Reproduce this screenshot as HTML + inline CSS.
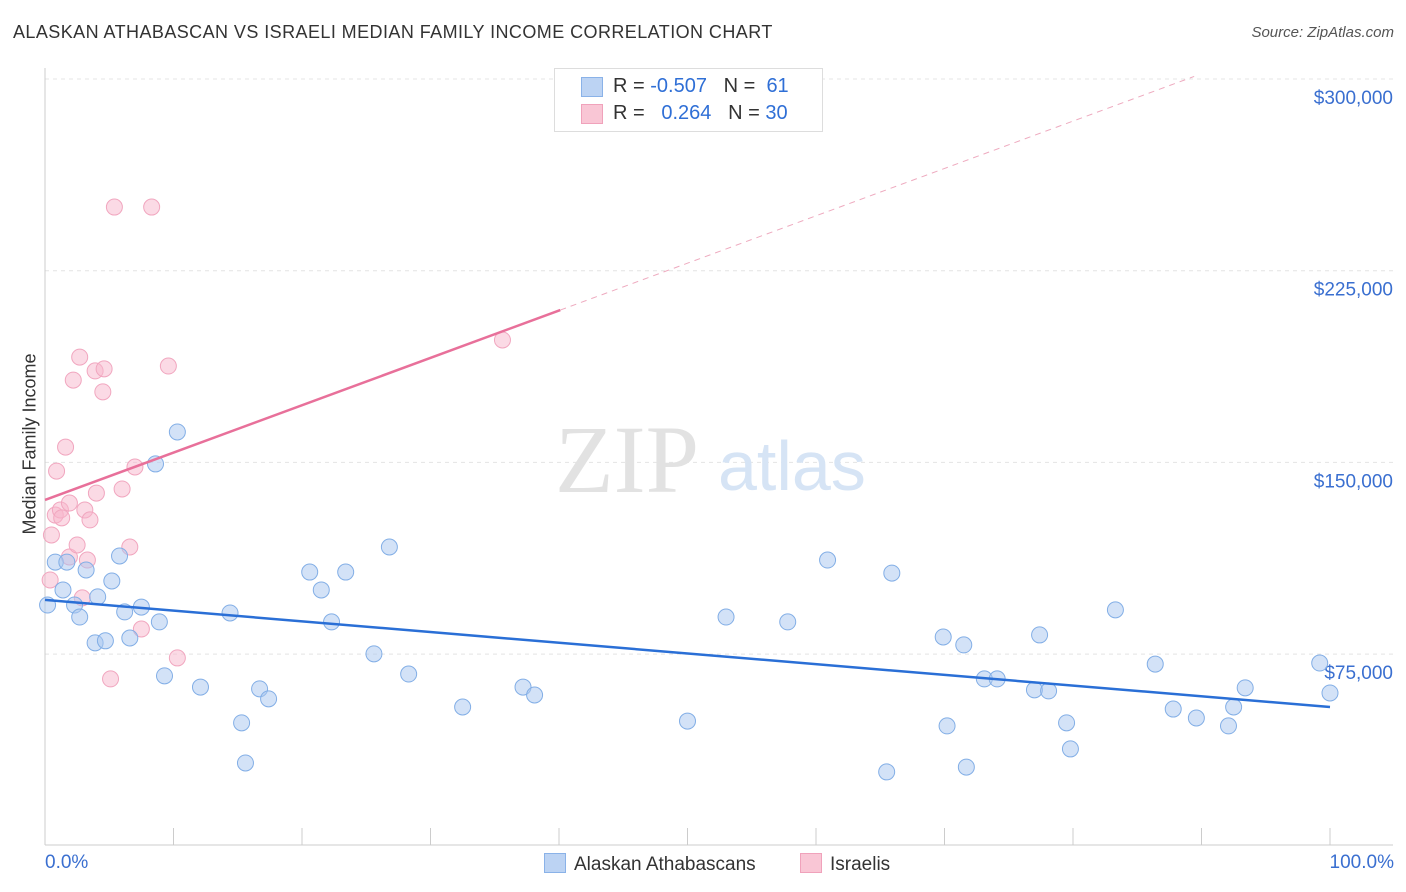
<!DOCTYPE html>
<html><head><meta charset="utf-8"><style>
body{margin:0;background:#fff;font-family:"Liberation Sans",sans-serif;}
#wrap{position:relative;width:1406px;height:892px;overflow:hidden;}
.t{position:absolute;white-space:nowrap;}
</style></head><body>
<div id="wrap">
<div class="t" style="left:13px;top:22px;font-size:18px;color:#333;letter-spacing:0.43px">ALASKAN ATHABASCAN VS ISRAELI MEDIAN FAMILY INCOME CORRELATION CHART</div>
<div class="t" style="right:12px;top:24px;font-size:15px;color:#555;font-style:italic">Source: ZipAtlas.com</div>
<svg id="svg" width="1406" height="892" style="position:absolute;left:0;top:0"></svg>
</div>
<script>
const xTickCount = 11;
const yTicks = [75000,150000,225000,300000];
const yTickLabels = ["$75,000","$150,000","$225,000","$300,000"];
const blueX = [0.2,0.8,1.4,1.7,2.3,2.7,3.2,3.9,4.1,4.7,5.2,5.8,6.2,6.6,7.5,8.6,8.9,9.3,10.3,12.1,14.4,15.3,15.6,16.7,17.4,20.6,21.5,22.3,23.4,25.6,26.8,28.3,32.5,37.2,38.1,50.0,53.0,57.8,60.9,65.5,65.9,69.9,70.2,71.5,71.7,73.1,74.1,77.0,77.4,78.1,79.5,79.8,83.3,86.4,87.8,89.6,92.1,92.5,93.4,99.2,100];
const blueY = [94200,111000,100100,111000,94200,89500,107900,79400,97400,80200,103600,113400,91500,81300,93400,149400,87600,66500,161900,62100,91100,48100,32400,61400,57500,107100,100100,87600,107100,75100,116900,67200,54300,62100,59000,48800,89500,87600,111800,28900,106700,81700,46900,78600,30800,65300,65300,61000,82500,60600,48100,37900,92300,71100,53500,50000,46900,54300,61800,71500,59800];
const pinkX = [0.4,0.5,0.8,0.9,1.2,1.3,1.6,1.9,1.9,2.2,2.5,2.7,2.9,3.1,3.3,3.5,3.9,4.0,4.5,4.6,5.1,5.4,6.0,6.6,7.0,7.5,8.3,9.6,10.3,35.6];
const pinkY = [104000,121600,129400,146600,131400,128300,156000,134100,113000,182200,117700,191200,97000,131400,111800,127500,185800,138000,177600,186600,65300,249900,139600,116900,148200,84800,249900,187700,73500,197900];
const blueTrend = [96200,54300];
const pinkTrend = [135300,209600];
const pinkSolidEnd = 40.1;

const X0=45,X1=1330,YT=79,PX=191.7/75000;
const sx=v=>X0+(X1-X0)*v/100;
const sy=v=>YT+(300000-v)*PX;
const svg=document.getElementById('svg');
const NS='http://www.w3.org/2000/svg';
function mk(tag,attrs,parent){const e=document.createElementNS(NS,tag);for(const k in attrs)e.setAttribute(k,attrs[k]);(parent||svg).appendChild(e);return e;}

yTicks.forEach((v,i)=>{
  const g=mk('line',{x1:45,x2:1393,y1:sy(v),y2:sy(v),stroke:'#e4e4e4','stroke-dasharray':'4,4'});
  
  
  const t=mk('text',{x:1393,y:sy(v)+25,'text-anchor':'end','font-size':19,fill:'#3a6fd0','font-family':'Liberation Sans'});
  t.textContent=yTickLabels[i];
  
  
});
const ax=mk('line',{x1:45,x2:45,y1:68,y2:845,stroke:'#ccc'});


const bx=mk('line',{x1:45,x2:1393,y1:845,y2:845,stroke:'#ccc'});


for(let i=0;i<xTickCount;i++){
  const l=mk('line',{x1:sx(i*10),x2:sx(i*10),y1:828,y2:845,stroke:'#ccc'});
  
  
}
const w1=mk('text',{x:555,y:492,'font-size':96,fill:'#e2e2e2','font-family':'Liberation Serif'});w1.textContent='ZIP';

const w2=mk('text',{x:718,y:490,'font-size':70,fill:'#d6e4f5','font-family':'Liberation Sans'});w2.textContent='atlas';


pinkX.forEach((x,i)=>{
  const c=mk('circle',{cx:sx(x),cy:sy(pinkY[i]),r:8,fill:'rgba(248,182,204,0.5)',stroke:'#f1a6bf','stroke-width':1});
  
  
});
blueX.forEach((x,i)=>{
  const c=mk('circle',{cx:sx(x),cy:sy(blueY[i]),r:8,fill:'rgba(168,198,240,0.5)',stroke:'#82aee6','stroke-width':1});
  
  
});
const bt=mk('line',{x1:sx(0),y1:sy(blueTrend[0]),x2:sx(100),y2:sy(blueTrend[1]),stroke:'#2a6fd6','stroke-width':2.5});


const slope=(pinkTrend[1]-pinkTrend[0])/pinkSolidEnd;
const pt=mk('line',{x1:sx(0),y1:sy(pinkTrend[0]),x2:sx(pinkSolidEnd),y2:sy(pinkTrend[1]),stroke:'#e8709a','stroke-width':2.5});


const xe=(300000+1000-pinkTrend[0])/slope;
const pd=mk('line',{x1:sx(pinkSolidEnd),y1:sy(pinkTrend[1]),x2:sx(xe),y2:sy(pinkTrend[0]+slope*xe),stroke:'#eeaabf','stroke-width':1,'stroke-dasharray':'6,5'});


</script>
<div class="t" style="left:-50px;top:444px;width:160px;text-align:center;transform:rotate(-90deg);font-size:18px;color:#333">Median Family Income</div>
<div class="t" style="left:45px;top:852px;font-size:19px;color:#3a6fd0">0.0%</div>
<div class="t" style="right:12px;top:852px;font-size:19px;color:#3a6fd0">100.0%</div>
<div style="position:absolute;left:554px;top:68px;width:267px;height:62px;border:1px solid #ddd;background:#fff;font-size:20px">
 <div style="position:absolute;left:26px;top:8px;width:20px;height:18px;background:#bcd3f3;border:1px solid #8ab2e8"></div>
 <div class="t" style="left:58px;top:6px;color:#333">R = <span style="color:#2f6fd6">-0.507</span>&nbsp;&nbsp;&nbsp;N = &nbsp;<span style="color:#2f6fd6">61</span></div>
 <div style="position:absolute;left:26px;top:35px;width:20px;height:18px;background:#f9c6d5;border:1px solid #f0a2bb"></div>
 <div class="t" style="left:58px;top:33px;color:#333">R = &nbsp;&nbsp;<span style="color:#2f6fd6">0.264</span>&nbsp;&nbsp;&nbsp;N = <span style="color:#2f6fd6">30</span></div>
</div>
<div style="position:absolute;left:544px;top:853px;font-size:19px;color:#333">
 <span style="display:inline-block;width:20px;height:18px;background:#bcd3f3;border:1px solid #8ab2e8;vertical-align:-3px;margin-right:8px"></span>Alaskan Athabascans</div>
<div style="position:absolute;left:800px;top:853px;font-size:19px;color:#333">
 <span style="display:inline-block;width:20px;height:18px;background:#f9c6d5;border:1px solid #f0a2bb;vertical-align:-3px;margin-right:8px"></span>Israelis</div>
</body></html>
